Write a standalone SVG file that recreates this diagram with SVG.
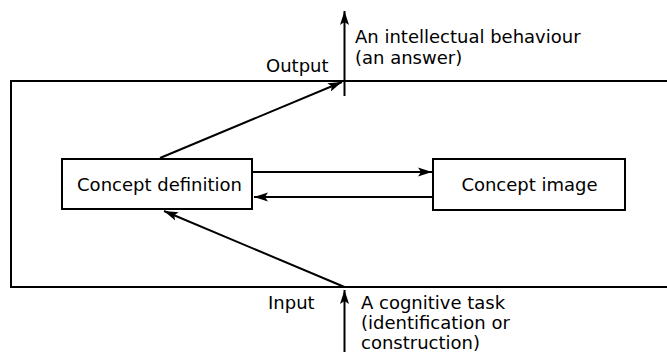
<svg xmlns="http://www.w3.org/2000/svg" width="667" height="358" viewBox="0 0 667 358">
<style>
  .ln{stroke:#000;stroke-width:2;fill:none}
  .box{stroke:#000;stroke-width:2;fill:#fff}
  .t{font-family:"DejaVu Sans",sans-serif;font-size:18px;fill:#000}
  .c{text-anchor:middle}
</style>
<defs>
  <marker id="ah" markerUnits="userSpaceOnUse" markerWidth="16" markerHeight="10" refX="14" refY="5" orient="auto">
    <path d="M0,0.5 L14,5 L0,9.5 L3,5 Z" fill="#000"/>
  </marker>
</defs>
<rect width="667" height="358" fill="#fff"/>
<g id="frame">
  <path class="ln" d="M668,81 H11 V287 H668"/>
</g>
<g id="concept-definition">
  <rect class="box" x="62" y="159" width="190" height="50"/>
  <text class="t c" x="159.5" y="191">Concept definition</text>
</g>
<g id="concept-image">
  <rect class="box" x="433" y="159" width="192" height="51"/>
  <text class="t c" x="529.5" y="191">Concept image</text>
</g>
<g id="output">
  <text class="t" x="266" y="72">Output</text>
  <text class="t" x="355" y="43">An intellectual behaviour</text>
  <text class="t" x="355" y="64">(an answer)</text>
</g>
<g id="input">
  <text class="t" x="268" y="309">Input</text>
  <text class="t" x="361" y="309">A cognitive task</text>
  <text class="t" x="361" y="329">(identification or</text>
  <text class="t" x="361" y="349">construction)</text>
</g>
<g id="connectors">
  <line class="ln" x1="344.5" y1="96" x2="344.5" y2="11" marker-end="url(#ah)"/>
  <line class="ln" x1="160" y1="158" x2="342" y2="82" marker-end="url(#ah)"/>
  <line class="ln" x1="252" y1="172" x2="432" y2="172" marker-end="url(#ah)"/>
  <line class="ln" x1="433" y1="197" x2="254" y2="197" marker-end="url(#ah)"/>
  <line class="ln" x1="344.5" y1="287" x2="164" y2="211" marker-end="url(#ah)"/>
  <line class="ln" x1="344.5" y1="352" x2="344.5" y2="290" marker-end="url(#ah)"/>
</g>
</svg>
